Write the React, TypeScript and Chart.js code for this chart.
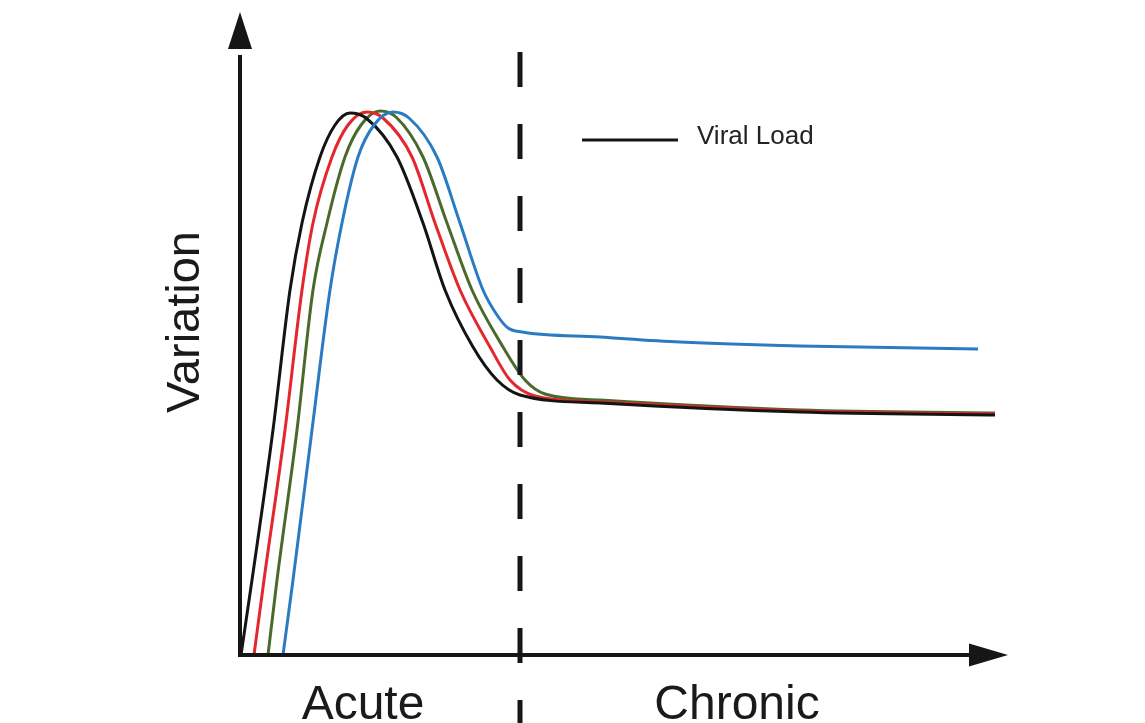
import React, { useEffect, useRef } from "react";
import { Chart, registerables } from "chart.js";

Chart.register(...registerables);

// Time (arbitrary units) and variation (arbitrary units)
const blackX = [0.1, 1.2, 3.3, 5.0, 6.2, 8.0, 9.5, 11.0, 12.6, 15.7, 18.3, 20.5, 23.3, 25.7, 28.0, 36.0, 56.0, 75.5];
const blackY = [0, 7.5, 22.5, 36.5, 43.2, 49.8, 53.0, 54.2, 53.7, 49.8, 43.2, 36.5, 30.8, 27.5, 26.0, 25.2, 24.3, 24.0];

const redX = [1.4, 2.4, 4.5, 6.2, 7.3, 9.2, 10.8, 12.7, 14.3, 17.2, 19.5, 22.0, 25.0, 27.0, 29.5, 36.0, 56.0, 75.5];
const redY = [0, 7.5, 22.5, 36.5, 43.2, 49.8, 53.0, 54.3, 53.7, 49.8, 43.2, 36.5, 30.8, 27.5, 25.9, 25.3, 24.4, 24.1];

const greenX = [2.8, 3.7, 5.7, 7.3, 8.7, 10.5, 12.1, 14.0, 15.6, 18.3, 20.7, 23.2, 26.3, 28.5, 30.5, 36.0, 56.0, 75.5];
const greenY = [0, 7.5, 22.5, 36.5, 43.2, 49.8, 53.0, 54.4, 53.8, 49.8, 43.2, 36.5, 30.8, 27.5, 26.1, 25.5, 24.5, 24.2];

const blueX = [4.3, 5.3, 7.2, 9.0, 10.2, 11.8, 13.4, 15.3, 16.9, 19.7, 22.0, 24.3, 25.7, 26.8, 28.2, 36.0, 44.0, 56.0, 73.8];
const blueY = [0, 7.5, 22.5, 36.5, 43.2, 49.8, 53.0, 54.3, 53.7, 49.8, 43.2, 36.5, 34.0, 32.7, 32.3, 31.8, 31.3, 30.9, 30.6];

const phaseLabels = ["Acute", "Chronic"];
const phaseCenters = [12.3, 49.7];
const phaseBoundary = 28.0;
const yTitle = "Variation";
const legendLabel = "Viral Load";

const X_MAX = 76.8;
const Y_MAX = 64.3;

const toPoints = (xs: number[], ys: number[]) => xs.map((x, i) => ({ x, y: ys[i] }));

const FONT = '"Liberation Sans", Arial, Helvetica, sans-serif';

const overlay = {
  id: "overlay",
  afterDatasetsDraw(chart: any) {
    const ctx = chart.ctx as CanvasRenderingContext2D;
    const xs = chart.scales.x;
    const ys = chart.scales.y;
    const px = (v: number) => xs.getPixelForValue(v);
    const py = (v: number) => ys.getPixelForValue(v);
    const ink = "#161616";
    ctx.save();

    // dashed phase boundary
    ctx.strokeStyle = ink;
    ctx.lineWidth = 5;
    ctx.setLineDash([35, 37]);
    ctx.beginPath();
    ctx.moveTo(px(phaseBoundary), py(60.3));
    ctx.lineTo(px(phaseBoundary), chart.height);
    ctx.stroke();
    ctx.setLineDash([]);

    // axes
    const x0 = px(0);
    const y0 = py(0);
    ctx.lineWidth = 4;
    ctx.lineCap = "butt";
    ctx.beginPath();
    ctx.moveTo(x0, y0 + 2);
    ctx.lineTo(x0, py(60.0));
    ctx.moveTo(x0 - 2, y0);
    ctx.lineTo(px(73.0), y0);
    ctx.stroke();

    ctx.fillStyle = ink;
    // y arrow
    ctx.beginPath();
    ctx.moveTo(x0, py(Y_MAX));
    ctx.lineTo(x0 - 12, py(60.6));
    ctx.lineTo(x0 + 12, py(60.6));
    ctx.closePath();
    ctx.fill();
    // x arrow
    ctx.beginPath();
    ctx.moveTo(px(X_MAX), y0);
    ctx.lineTo(px(72.9), y0 - 11.5);
    ctx.lineTo(px(72.9), y0 + 11.5);
    ctx.closePath();
    ctx.fill();

    // legend
    ctx.lineWidth = 3;
    ctx.strokeStyle = ink;
    ctx.beginPath();
    ctx.moveTo(px(34.2), py(51.5));
    ctx.lineTo(px(43.8), py(51.5));
    ctx.stroke();
    ctx.fillStyle = "#222";
    ctx.font = `26px ${FONT}`;
    ctx.textAlign = "left";
    ctx.textBaseline = "middle";
    ctx.fillText(legendLabel, px(45.7), py(51.8));

    // phase labels
    ctx.fillStyle = "#1a1a1a";
    ctx.font = `48px ${FONT}`;
    ctx.textAlign = "center";
    ctx.textBaseline = "alphabetic";
    phaseLabels.forEach((t, i) => {
      ctx.fillText(t, px(phaseCenters[i]), chart.height - 4);
    });

    // y title
    ctx.save();
    ctx.translate(x0 - 54, py(33.3));
    ctx.rotate(-Math.PI / 2);
    ctx.font = `47px ${FONT}`;
    ctx.textAlign = "center";
    ctx.textBaseline = "middle";
    ctx.fillText(yTitle, 0, 0);
    ctx.restore();

    ctx.restore();
  },
};

export default function App() {
  const ref = useRef<HTMLCanvasElement>(null);

  useEffect(() => {
    document.body.style.margin = "0";
    if (!ref.current) return;
    const common = {
      showLine: true,
      pointRadius: 0,
      borderWidth: 3,
      fill: false,
      cubicInterpolationMode: "monotone" as const,
    };
    const chart = new Chart(ref.current, {
      type: "line",
      data: {
        datasets: [
          { ...common, label: "Blue", data: toPoints(blueX, blueY), borderColor: "#2a7cc2" },
          { ...common, label: "Black", data: toPoints(blackX, blackY), borderColor: "#141414" },
          { ...common, label: "Red", data: toPoints(redX, redY), borderColor: "#e3272d" },
          { ...common, label: "Green", data: toPoints(greenX, greenY), borderColor: "#4a6a2c" },
        ],
      },
      options: {
        animation: false,
        responsive: false,
        layout: { padding: { left: 240, right: 1145 - 1008, top: 12, bottom: 723 - 655 } },
        scales: {
          x: { type: "linear", min: 0, max: X_MAX, display: false },
          y: { type: "linear", min: 0, max: Y_MAX, display: false },
        },
        plugins: {
          legend: { display: false },
          tooltip: { enabled: false },
        },
      },
      plugins: [overlay],
    });
    return () => chart.destroy();
  }, []);

  return (
    <div style={{ width: 1145, height: 723, background: "#fff" }}>
      <canvas ref={ref} width={1145} height={723} />
    </div>
  );
}
